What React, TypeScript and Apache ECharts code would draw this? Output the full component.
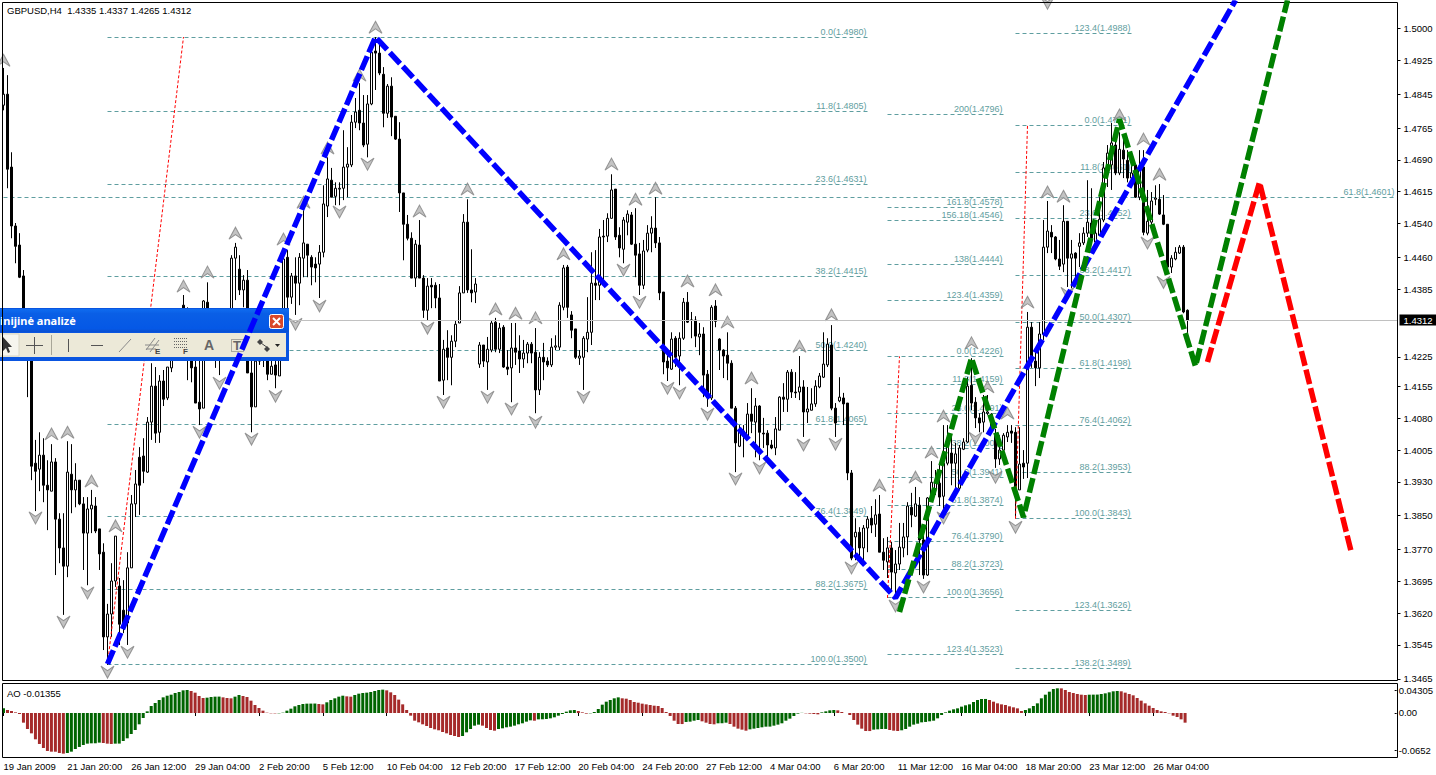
import React, { useEffect, useRef } from "react";
import * as echarts from "echarts";

// Every candle row is [open, close, low, high]
const barsA = [
[1.4819,1.4845,1.4807,1.4907],[1.4845,1.4668,1.4623,1.4890],[1.4673,1.4534,1.4505,1.4708],[1.4534,1.4486,1.4446,1.4541],[1.4489,1.4413,1.4411,1.4517],
[1.4416,1.4288,1.4276,1.4430],[1.4288,1.4241,1.4130,1.4300],[1.4241,1.3967,1.3934,1.4253],[1.3974,1.3955,1.3861,1.4029],[1.3960,1.3993,1.3908,1.4047],
[1.3993,1.3922,1.3882,1.4033],[1.3922,1.3911,1.3816,1.3981],[1.3908,1.3977,1.3908,1.4019],[1.3977,1.3842,1.3710,1.3986],[1.3842,1.3774,1.3738,1.3856],
[1.3774,1.3731,1.3616,1.3856],[1.3731,1.3953,1.3705,1.4026],[1.3948,1.3911,1.3856,1.4019],[1.3911,1.3934,1.3870,1.3974],[1.3934,1.3878,1.3875,1.3934],
[1.3878,1.3809,1.3722,1.3894],[1.3809,1.3866,1.3686,1.3894],[1.3866,1.3875,1.3809,1.3911],[1.3873,1.3814,1.3809,1.3894],[1.3819,1.3760,1.3722,1.3819],
[1.3764,1.3564,1.3533,1.3785],[1.3564,1.3618,1.3498,1.3642],[1.3618,1.3696,1.3564,1.3738],[1.3696,1.3802,1.3682,1.3802],[1.3684,1.3594,1.3545,1.3703],
[1.3627,1.3594,1.3573,1.3698],[1.3597,1.3727,1.3545,1.3764],[1.3727,1.3878,1.3727,1.3899],[1.3878,1.3925,1.3847,1.3958],[1.3988,1.3922,1.3852,1.4012],
[1.3991,1.3955,1.3927,1.4033],[1.3953,1.4071,1.3951,1.4083],[1.4071,1.4156,1.4029,1.4210],[1.4156,1.4045,1.4022,1.4201],[1.4047,1.4168,1.4022,1.4182],
[1.4168,1.4125,1.4109,1.4194],[1.4128,1.4201,1.4123,1.4201],[1.4199,1.4217,1.4189,1.4265],[1.4217,1.4253,1.4217,1.4288],[1.4253,1.4300,1.4241,1.4324],
[1.4347,1.4288,1.4276,1.4371],[1.4300,1.4253,1.4170,1.4342],[1.4217,1.4199,1.4165,1.4288],[1.4201,1.4116,1.4116,1.4217],[1.4118,1.4102,1.4064,1.4241],
];
const barsB = [
[1.4104,1.4357,1.4104,1.4359],[1.4354,1.4276,1.4253,1.4401],[1.4276,1.4312,1.4253,1.4331],[1.4312,1.4265,1.4199,1.4324],[1.4241,1.4300,1.4182,1.4331],
[1.4288,1.4324,1.4265,1.4335],[1.4312,1.4276,1.4265,1.4335],[1.4288,1.4458,1.4276,1.4465],[1.4458,1.4484,1.4359,1.4494],[1.4432,1.4383,1.4371,1.4465],
[1.4383,1.4406,1.4342,1.4418],[1.4406,1.4187,1.4187,1.4430],[1.4187,1.4107,1.4047,1.4217],[1.4107,1.4215,1.4107,1.4253],[1.4215,1.4288,1.4206,1.4335],
[1.4288,1.4241,1.4201,1.4312],[1.4253,1.4184,1.4170,1.4288],[1.4184,1.4203,1.4184,1.4265],[1.4206,1.4182,1.4151,1.4276],[1.4180,1.4253,1.4180,1.4300],
[1.4253,1.4456,1.4241,1.4465],[1.4460,1.4366,1.4312,1.4477],[1.4366,1.4416,1.4350,1.4423],[1.4416,1.4399,1.4324,1.4460],[1.4399,1.4460,1.4347,1.4470],
[1.4458,1.4494,1.4413,1.4571],[1.4491,1.4465,1.4413,1.4491],[1.4460,1.4437,1.4394,1.4465],[1.4444,1.4435,1.4401,1.4460],[1.4444,1.4472,1.4364,1.4489],
[1.4472,1.4586,1.4460,1.4630],[1.4581,1.4645,1.4555,1.4696],[1.4642,1.4602,1.4602,1.4671],[1.4604,1.4623,1.4583,1.4637],[1.4621,1.4623,1.4583,1.4637],
[1.4623,1.4673,1.4595,1.4760],[1.4673,1.4680,1.4602,1.4720],[1.4678,1.4779,1.4673,1.4796],[1.4779,1.4803,1.4765,1.4836],[1.4807,1.4777,1.4760,1.4871],
[1.4777,1.4725,1.4720,1.4843],[1.4727,1.4822,1.4696,1.4843],[1.4822,1.4944,1.4819,1.4968],[1.4947,1.4942,1.4855,1.4980],[1.4942,1.4895,1.4890,1.4966],
[1.4892,1.4800,1.4767,1.4909],[1.4800,1.4864,1.4789,1.4869],[1.4864,1.4791,1.4746,1.4885],[1.4793,1.4739,1.4737,1.4793],[1.4739,1.4612,1.4567,1.4779],
];
const barsC = [
[1.4612,1.4538,1.4453,1.4612],[1.4538,1.4505,1.4500,1.4560],[1.4505,1.4411,1.4411,1.4519],[1.4411,1.4491,1.4390,1.4501],[1.4489,1.4411,1.4411,1.4548],
[1.4411,1.4335,1.4317,1.4418],[1.4335,1.4392,1.4312,1.4411],[1.4394,1.4390,1.4340,1.4411],[1.4394,1.4364,1.4340,1.4401],[1.4364,1.4168,1.4168,1.4397],
[1.4170,1.4243,1.4135,1.4265],[1.4246,1.4224,1.4170,1.4288],[1.4224,1.4262,1.4158,1.4276],[1.4262,1.4302,1.4248,1.4312],[1.4305,1.4376,1.4305,1.4392],
[1.4376,1.4543,1.4376,1.4562],[1.4543,1.4383,1.4376,1.4597],[1.4383,1.4376,1.4354,1.4479],[1.4378,1.4397,1.4352,1.4411],[1.4208,1.4253,1.4199,1.4260],
[1.4253,1.4215,1.4201,1.4253],[1.4213,1.4243,1.4147,1.4272],[1.4241,1.4305,1.4236,1.4312],[1.4307,1.4243,1.4236,1.4317],[1.4243,1.4293,1.4234,1.4305],
[1.4295,1.4201,1.4199,1.4300],[1.4201,1.4196,1.4182,1.4241],[1.4199,1.4246,1.4118,1.4305],[1.4246,1.4236,1.4206,1.4305],[1.4239,1.4220,1.4187,1.4276],
[1.4220,1.4234,1.4199,1.4265],[1.4234,1.4255,1.4210,1.4260],[1.4255,1.4234,1.4210,1.4260],[1.4236,1.4147,1.4092,1.4293],[1.4147,1.4224,1.4135,1.4236],
[1.4224,1.4213,1.4170,1.4258],[1.4215,1.4206,1.4201,1.4224],[1.4206,1.4248,1.4201,1.4269],[1.4248,1.4251,1.4241,1.4276],[1.4248,1.4347,1.4241,1.4354],
[1.4342,1.4435,1.4335,1.4442],[1.4437,1.4342,1.4317,1.4442],[1.4324,1.4288,1.4269,1.4333],[1.4291,1.4224,1.4220,1.4291],[1.4222,1.4227,1.4206,1.4241],
[1.4224,1.4269,1.4147,1.4274],[1.4267,1.4283,1.4236,1.4366],[1.4283,1.4399,1.4253,1.4472],[1.4399,1.4394,1.4359,1.4477],[1.4394,1.4508,1.4359,1.4527],
];
const barsD = [
[1.4510,1.4508,1.4399,1.4548],[1.4510,1.4552,1.4496,1.4564],[1.4552,1.4619,1.4552,1.4656],[1.4621,1.4508,1.4501,1.4621],[1.4512,1.4482,1.4460,1.4531],
[1.4479,1.4548,1.4446,1.4555],[1.4543,1.4562,1.4512,1.4571],[1.4560,1.4491,1.4489,1.4567],[1.4491,1.4465,1.4413,1.4576],[1.4468,1.4394,1.4371,1.4494],
[1.4394,1.4475,1.4385,1.4501],[1.4477,1.4517,1.4472,1.4536],[1.4517,1.4529,1.4472,1.4557],[1.4529,1.4494,1.4482,1.4602],[1.4494,1.4376,1.4359,1.4508],
[1.4378,1.4213,1.4184,1.4378],[1.4215,1.4199,1.4168,1.4229],[1.4196,1.4267,1.4194,1.4283],[1.4269,1.4224,1.4201,1.4274],[1.4227,1.4269,1.4158,1.4283],
[1.4269,1.4354,1.4265,1.4364],[1.4354,1.4307,1.4305,1.4378],[1.4312,1.4312,1.4269,1.4331],[1.4312,1.4274,1.4248,1.4321],[1.4272,1.4279,1.4229,1.4305],
[1.4279,1.4182,1.4130,1.4295],[1.4184,1.4128,1.4107,1.4194],[1.4128,1.4342,1.4123,1.4347],[1.4345,1.4309,1.4295,1.4359],[1.4267,1.4241,1.4194,1.4269],
[1.4241,1.4227,1.4175,1.4243],[1.4229,1.4210,1.4170,1.4283],[1.4210,1.4104,1.4104,1.4217],[1.4104,1.4022,1.3953,1.4109],[1.4014,1.4052,1.4012,1.4064],
[1.4050,1.4038,1.3988,1.4064],[1.4036,1.4090,1.4029,1.4116],[1.4090,1.4073,1.4045,1.4151],[1.4071,1.4109,1.3988,1.4128],[1.4109,1.4047,1.3981,1.4111],
[1.4045,1.4043,1.4010,1.4081],[1.4045,1.4017,1.3977,1.4052],[1.4017,1.4010,1.4007,1.4029],[1.4010,1.4055,1.3993,1.4083],[1.4052,1.4130,1.4052,1.4132],
[1.4130,1.4125,1.4095,1.4163],[1.4125,1.4189,1.4095,1.4194],[1.4189,1.4142,1.4128,1.4196],[1.4142,1.4140,1.4128,1.4189],[1.4142,1.4154,1.4123,1.4227],
];
const barsE = [
[1.4154,1.4095,1.4036,1.4170],[1.4095,1.4102,1.4069,1.4154],[1.4099,1.4114,1.4099,1.4151],[1.4114,1.4156,1.4107,1.4170],[1.4154,1.4180,1.4151,1.4187],
[1.4177,1.4208,1.4175,1.4283],[1.4206,1.4255,1.4201,1.4269],[1.4253,1.4104,1.4099,1.4300],[1.4104,1.4069,1.4036,1.4116],[1.4121,1.4130,1.4118,1.4177],
[1.4128,1.4114,1.4064,1.4140],[1.4116,1.3951,1.3934,1.4116],[1.3951,1.3750,1.3745,1.3958],[1.3800,1.3811,1.3745,1.3844],[1.3811,1.3774,1.3750,1.3823],
[1.3774,1.3821,1.3741,1.3828],[1.3821,1.3842,1.3764,1.3849],[1.3844,1.3828,1.3809,1.3873],[1.3830,1.3852,1.3800,1.3889],[1.3854,1.3764,1.3764,1.3899],
[1.3764,1.3745,1.3722,1.3797],[1.3741,1.3774,1.3703,1.3800],[1.3774,1.3717,1.3675,1.3788],[1.3715,1.3736,1.3658,1.3769],[1.3736,1.3776,1.3722,1.3833],
[1.3774,1.3800,1.3752,1.3833],[1.3800,1.3873,1.3757,1.3882],[1.3870,1.3852,1.3823,1.3904],[1.3849,1.3878,1.3847,1.3918],[1.3875,1.3793,1.3710,1.3894],
[1.3793,1.3710,1.3701,1.3823],[1.3710,1.3892,1.3708,1.3894],[1.3889,1.3929,1.3887,1.3979],[1.3911,1.3929,1.3899,1.3958],[1.3927,1.3894,1.3873,1.3974],
[1.3896,1.3974,1.3859,1.4064],[1.3974,1.4022,1.3969,1.4064],[1.3998,1.3974,1.3922,1.4036],[1.3974,1.3996,1.3894,1.4022],[1.3915,1.4010,1.3911,1.4017],
[1.4007,1.4024,1.4005,1.4033],[1.4024,1.4156,1.4022,1.4177],[1.4158,1.4116,1.4099,1.4222],[1.4118,1.4081,1.4057,1.4130],[1.4081,1.4069,1.4047,1.4092],
[1.4071,1.4095,1.4047,1.4135],[1.4092,1.4095,1.4088,1.4135],[1.4090,1.4055,1.4045,1.4092],[1.4043,1.3984,1.3963,1.4055],[1.3984,1.4005,1.3970,1.4040],
];
const barsF = [
[1.4005,1.4040,1.4003,1.4045],[1.4036,1.4047,1.4024,1.4064],[1.4050,1.4045,1.4022,1.4064],[1.4047,1.3906,1.3844,1.4059],[1.3911,1.3972,1.3911,1.4059],
[1.3974,1.3965,1.3937,1.4005],[1.3974,1.4295,1.3939,1.4331],[1.4295,1.4215,1.4199,1.4307],[1.4215,1.4199,1.4156,1.4236],[1.4199,1.4279,1.4175,1.4307],
[1.4279,1.4484,1.4265,1.4548],[1.4484,1.4522,1.4470,1.4593],[1.4519,1.4508,1.4470,1.4536],[1.4508,1.4456,1.4453,1.4510],[1.4456,1.4439,1.4430,1.4501],
[1.4444,1.4545,1.4425,1.4583],[1.4545,1.4458,1.4390,1.4545],[1.4458,1.4468,1.4387,1.4501],[1.4470,1.4458,1.4413,1.4472],[1.4486,1.4494,1.4437,1.4517],
[1.4494,1.4517,1.4489,1.4531],[1.4517,1.4543,1.4508,1.4642],[1.4541,1.4505,1.4494,1.4623],[1.4496,1.4517,1.4477,1.4531],[1.4512,1.4550,1.4510,1.4602],
[1.4548,1.4671,1.4543,1.4685],[1.4671,1.4706,1.4626,1.4725],[1.4678,1.4730,1.4619,1.4777],[1.4725,1.4659,1.4654,1.4760],[1.4659,1.4715,1.4654,1.4755],
[1.4713,1.4692,1.4647,1.4741],[1.4689,1.4647,1.4637,1.4713],[1.4647,1.4659,1.4630,1.4694],[1.4678,1.4602,1.4600,1.4682],[1.4602,1.4675,1.4595,1.4713],
[1.4673,1.4519,1.4512,1.4713],[1.4517,1.4545,1.4512,1.4619],[1.4543,1.4593,1.4536,1.4614],[1.4597,1.4600,1.4583,1.4630],[1.4597,1.4562,1.4560,1.4633],
[1.4560,1.4538,1.4536,1.4607],[1.4538,1.4437,1.4434,1.4538],[1.4437,1.4458,1.4423,1.4465],[1.4456,1.4472,1.4453,1.4484],[1.4470,1.4484,1.4468,1.4489],
[1.4484,1.4331,1.4328,1.4489],[1.4335,1.4312,1.4265,1.4337],
];

const aoA = [.0087,.0056,.0037,.0012,-.0019,-.0181,-.0300,-.0381,-.0493,-.0580,-.0655,-.0711,-.0724,-.0725,-.0749,-.0761,-.0749,-.0724,-.0674,-.0636,-.0599,-.0574,-.0568,-.0567,-.0555,-.0562,-.0574,-.0580,-.0574,-.0573,-.0524,-.0474,-.0393,-.0318,-.0212,-.0094,.0031,.0131,.0187,.0243,.0293,.0324,.0343,.0374,.0393,.0424,.0431,.0412,.0381,.0318];
const aoB = [.0281,.0287,.0300,.0306,.0307,.0293,.0281,.0275,.0306,.0337,.0318,.0300,.0231,.0150,.0094,.0044,.0006,-.0006,-.0007,-.0006,.0006,.0044,.0081,.0125,.0150,.0168,.0175,.0176,.0177,.0168,.0162,.0200,.0243,.0275,.0306,.0324,.0312,.0306,.0337,.0362,.0374,.0381,.0393,.0412,.0431,.0437,.0424,.0387,.0337,.0250];
const aoC = [.0162,.0056,-.0050,-.0144,-.0175,-.0212,-.0243,-.0281,-.0306,-.0324,-.0356,-.0381,-.0412,-.0431,-.0449,-.0431,-.0362,-.0300,-.0237,-.0218,-.0237,-.0281,-.0318,-.0331,-.0300,-.0287,-.0268,-.0256,-.0237,-.0212,-.0193,-.0162,-.0137,-.0144,-.0119,-.0118,-.0112,-.0100,-.0081,-.0050,-.0019,.0025,.0050,.0056,.0037,.0012,-.0012,-.0006,.0019,.0075];
const aoD = [.0156,.0212,.0243,.0275,.0293,.0275,.0268,.0243,.0206,.0193,.0175,.0162,.0150,.0137,.0131,.0094,.0019,-.0056,-.0144,-.0206,-.0207,-.0168,-.0162,-.0144,-.0131,-.0156,-.0181,-.0206,-.0212,-.0193,-.0192,-.0181,-.0206,-.0256,-.0293,-.0312,-.0331,-.0306,-.0293,-.0281,-.0268,-.0256,-.0255,-.0237,-.0218,-.0193,-.0144,-.0106,-.0056,-.0012];
const aoE = [.0003,-.0006,-.0012,-.0019,-.0025,.0012,.0031,.0050,.0056,.0050,.0019,0,-.0037,-.0131,-.0218,-.0293,-.0337,-.0338,-.0312,-.0306,-.0300,-.0299,-.0318,-.0331,-.0337,-.0324,-.0300,-.0256,-.0218,-.0200,-.0175,-.0168,-.0156,-.0144,-.0100,-.0037,.0012,.0044,.0069,.0087,.0119,.0144,.0162,.0206,.0243,.0262,.0263,.0243,.0212,.0181];
const aoF = [.0162,.0150,.0125,.0106,.0087,.0037,.0056,.0087,.0131,.0181,.0275,.0343,.0399,.0449,.0462,.0461,.0431,.0393,.0374,.0356,.0343,.0337,.0343,.0344,.0345,.0356,.0368,.0387,.0406,.0412,.0406,.0381,.0356,.0331,.0281,.0231,.0181,.0137,.0094,.0056,.0031,.0019,-.0006,-.0050,-.0075,-.0119,-.0181];

const dateLabels = ["19 Jan 2009","21 Jan 20:00","26 Jan 12:00","29 Jan 04:00","2 Feb 20:00","5 Feb 12:00","10 Feb 04:00","12 Feb 20:00","17 Feb 12:00","20 Feb 04:00","24 Feb 20:00","27 Feb 12:00","4 Mar 04:00","6 Mar 20:00","11 Mar 12:00","16 Mar 04:00","18 Mar 20:00","23 Mar 12:00","26 Mar 04:00"];
const priceTicks = [1.5,1.4925,1.4845,1.4765,1.469,1.4615,1.454,1.446,1.4385,1.4225,1.4155,1.408,1.4005,1.393,1.385,1.377,1.3695,1.362,1.3545,1.3465];
const aoTicks = [0.04305,0,-0.0693];
const aoTickText = ["0.04305","0.00","-0.0652"];
const lastClose = 1.4312;
const chartTitle = "GBPUSD,H4  1.4335 1.4337 1.4265 1.4312";
const aoTitle = "AO -0.01355";

// [bar index, price]
const fractalUp = [[0,1.4925],[12,1.4043],[16,1.4047],[22,1.3932],[28,1.3826],[45,1.4392],[51,1.4425],[58,1.4517],[70,1.4503],[75,1.4590],[81,1.4718],[89,1.4890],[93,1.5003],[104,1.4569],[116,1.4621],[123,1.4338],[128,1.4328],[133,1.4317],[140,1.4468],[152,1.4680],[158,1.4597],[163,1.4623],[171,1.4404],[178,1.4383],[181,1.4307],[187,1.4175],[199,1.4250],[207,1.4324],[219,1.3922],[228,1.3941],[232,1.4000],[235,1.4085],[242,1.4258],[246,1.4154],[251,1.4092],[256,1.4354],[261,1.4614],[265,1.4604],[279,1.4796],[285,1.4739],[289,1.4656]];
const fractalDown = [[8,1.3845],[15,1.3599],[21,1.3668],[26,1.3481],[31,1.3528],[49,1.4047],[54,1.4163],[62,1.4031],[68,1.4132],[73,1.4302],[79,1.4345],[84,1.4567],[91,1.4680],[106,1.4293],[110,1.4118],[121,1.4130],[127,1.4102],[133,1.4071],[145,1.4130],[155,1.4430],[159,1.4354],[166,1.4151],[169,1.4140],[176,1.4090],[183,1.3937],[189,1.3963],[200,1.4017],[208,1.4019],[212,1.3727],[223,1.3637],[230,1.3682],[235,1.3845],[243,1.4033],[248,1.3941],[253,1.3823],[261,1.5060],[266,1.4375],[286,1.4494],[290,1.4401]];

const waveBlue = [[26,1.35],[93,1.498],[223,1.3656],[308,1.5067]];
const waveGreen = [[224,1.3623],[242,1.4222],[255,1.3847],[279,1.4786],[298,1.4203],[321,1.5067]];
const waveRed = [[301,1.4213],[314,1.4637],[337,1.3762]];
const dotLineA = [[26,1.35],[45,1.498]];
const dotLineB = [[221,1.3656],[224,1.4226]];
const dotLineC = [[253,1.3843],[256,1.4771]];

// [level, price] per fibonacci tool; x ranges are bar indices
const fibLong = [["0.0",1.498],["11.8",1.4805],["23.6",1.4631],["38.2",1.4415],["50.0",1.424],["61.8",1.4065],["76.4",1.3849],["88.2",1.3675],["100.0",1.35]];
const fibMid = [["0.0",1.4226],["11.8",1.4159],["23.6",1.4091],["38.2",1.4008],["50.0",1.3941],["61.8",1.3874],["76.4",1.379],["88.2",1.3723],["100.0",1.3656],["123.4",1.3523],["123.4",1.4359],["138",1.4444],["156.18",1.4546],["161.8",1.4578],["200",1.4796]];
const fibNear = [["0.0",1.4771],["11.8",1.4661],["23.6",1.4552],["38.2",1.4417],["50.0",1.4307],["61.8",1.4198],["76.4",1.4062],["88.2",1.3953],["100.0",1.3843],["123.4",1.3626],["138.2",1.3489],["123.4",1.4988]];
const fibWide = [["61.8",1.4601]];

const AXIS_FONT = "Liberation Sans";
const AXIS_SIZE = 9.5;
const FIB_COLOR = "#5f9ea0";
const slotCount = 349;

const fibRows = [
  ...fibLong.map((r) => ({ from: 26, to: 216, level: r[0], price: r[1] as number })),
  ...fibMid.map((r) => ({ from: 221, to: 250, level: r[0], price: r[1] as number })),
  ...fibNear.map((r) => ({ from: 253, to: 282, level: r[0], price: r[1] as number })),
  ...fibWide.map((r) => ({ from: 0, to: 348, level: r[0], price: r[1] as number })),
];

function toolbarElements() {
  const g: any[] = [];
  const dark = "#555555";
  const mid = "#8a8a8a";
  const ln = (x1: number, y1: number, x2: number, y2: number, stroke = dark, lineWidth = 1) =>
    ({ type: "line", shape: { x1, y1, x2, y2 }, style: { stroke, lineWidth } });
  g.push({ type: "rect", shape: { x: 0, y: 308, width: 289, height: 53 },
    style: { fill: "#0a55e0" } });
  g.push({ type: "rect", shape: { x: 0, y: 309, width: 289, height: 23 },
    style: { fill: new echarts.graphic.LinearGradient(0, 0, 0, 1, [
      { offset: 0, color: "#0f6cf0" }, { offset: 0.2, color: "#0a5fe6" }, { offset: 0.85, color: "#0558e6" }, { offset: 1, color: "#0a4fd0" },
    ]) } });
  g.push({ type: "text", x: 0, y: 315, style: { text: "inijinė analizė", fill: "#fff", font: `bold 11px "Noto Sans"` } });
  g.push({ type: "rect", shape: { x: 269.5, y: 314.5, width: 14, height: 14, r: 2 },
    style: { fill: "#d8482a", stroke: "#ffffff", lineWidth: 1 } });
  g.push(ln(273, 318, 280, 325, "#fff", 2));
  g.push(ln(280, 318, 273, 325, "#fff", 2));
  g.push({ type: "rect", shape: { x: 0, y: 333, width: 286, height: 24 }, style: { fill: "#ece9d8" } });
  g.push({ type: "rect", shape: { x: 0, y: 334, width: 19, height: 22 }, style: { fill: "#f6f5ee", stroke: "#d8d5c4", lineWidth: 1 } });
  g.push({ type: "polygon", shape: { points: [[3, 337], [3, 351], [6, 348], [8, 353], [10, 352], [8, 347], [12, 347]] }, style: { fill: "#333" } });
  g.push(ln(26, 345.5, 43, 345.5, dark));
  g.push(ln(34.5, 337, 34.5, 354, dark));
  g.push(ln(51.5, 335, 51.5, 355, "#a8a698"));
  g.push(ln(68.5, 339, 68.5, 352, dark));
  g.push(ln(91, 345.5, 103, 345.5, dark));
  g.push(ln(119, 352, 131, 339, mid));
  g.push(ln(146, 350, 155, 338, mid));
  g.push(ln(150, 352, 159, 340, mid));
  g.push(ln(145, 345, 159, 345, mid));
  g.push(ln(146, 349, 156, 349, mid));
  g.push({ type: "text", x: 155, y: 347, style: { text: "E", fill: "#444", font: `bold 8px "Liberation Sans"` } });
  [338.5, 341.5, 344.5, 347.5].forEach((y) =>
    g.push({ type: "line", shape: { x1: 174, y1: y, x2: 187, y2: y }, style: { stroke: "#666", lineWidth: 1, lineDash: [1, 1] } }));
  g.push({ type: "text", x: 183, y: 347, style: { text: "F", fill: "#444", font: `bold 8px "Liberation Sans"` } });
  g.push({ type: "text", x: 204, y: 338, style: { text: "A", fill: "#666", font: `bold 14px "Liberation Sans"` } });
  g.push({ type: "rect", shape: { x: 231.5, y: 339.5, width: 12, height: 12 }, style: { fill: "none", stroke: "#666", lineWidth: 1, lineDash: [1, 1] } });
  g.push({ type: "text", x: 233, y: 339, style: { text: "T", fill: "#666", font: `bold 13px "Liberation Sans"` } });
  g.push({ type: "polygon", shape: { points: [[260, 339], [263, 342], [260, 345], [257, 342]] }, style: { fill: "#444" } });
  g.push({ type: "polygon", shape: { points: [[267, 346], [270, 349], [267, 352], [264, 349]] }, style: { fill: "#444" } });
  g.push(ln(261, 343, 268, 348, "#444"));
  g.push({ type: "polygon", shape: { points: [[275, 344], [280, 344], [277.5, 347]] }, style: { fill: "#222" } });
  return g.map((el) => ({ ...el, z: 50 }));
}

const arrowUp = "path://M6.5 0 L13 12 L6.5 7.5 L0 12 Z";
const arrowDown = "path://M0 0 L6.5 4.5 L13 0 L6.5 12 Z";

function waveSeries(name: string, data: number[][], color: string, z: number) {
  return {
    name, type: "line", data, xAxisIndex: 0, yAxisIndex: 0, symbol: "none", z, clip: true, animation: false, silent: true,
    lineStyle: { color, width: 5.5, type: [15, 4], cap: "butt", join: "bevel" },
  };
}
function dotSeries(name: string, data: number[][]) {
  return {
    name, type: "line", data, xAxisIndex: 0, yAxisIndex: 0, symbol: "none", z: 3, silent: true,
    lineStyle: { color: "#ff0000", width: 1, type: [3, 2] },
  };
}

export default function App() {
  const ref = useRef<HTMLDivElement>(null);
  useEffect(() => {
    document.body.style.margin = "0";
    const chart = echarts.init(ref.current!, undefined, { renderer: "svg" });
    const candles = [...barsA, ...barsB, ...barsC, ...barsD, ...barsE, ...barsF];
    const ao = [...aoA, ...aoB, ...aoC, ...aoD, ...aoE, ...aoF];
    const slots = Array.from({ length: slotCount }, (_, i) => `bar ${i}`);
    const hasDate = (i: number) => i % 16 === 0 && i / 16 < dateLabels.length;
    chart.setOption({
      animation: false,
      backgroundColor: "#ffffff",
      textStyle: { fontFamily: AXIS_FONT },
      grid: [
        { left: 1.5, top: 3, width: 1396, height: 677 },
        { left: 1.5, top: 684, width: 1396, height: 73 },
      ],
      xAxis: [
        { type: "category", gridIndex: 0, data: slots, show: false },
        {
          type: "category", gridIndex: 1, data: slots,
          axisLine: { show: false },
          axisTick: { show: true, length: 3, alignWithLabel: true, interval: (i: number) => hasDate(i), lineStyle: { color: "#000" } },
          axisLabel: {
            interval: (i: number) => hasDate(i), align: "left", margin: 4, color: "#000", fontSize: AXIS_SIZE, fontFamily: AXIS_FONT,
            formatter: (_: string, i: number) => (hasDate(i) ? dateLabels[i / 16] : ""),
          },
        },
      ],
      yAxis: [
        {
          type: "value", gridIndex: 0, position: "right", min: 1.34623, max: 1.50603, scale: true,
          splitLine: { show: false }, axisLine: { show: false },
          axisTick: { show: true, length: 3, customValues: priceTicks, lineStyle: { color: "#000" } },
          axisLabel: { customValues: priceTicks, margin: 6, color: "#000", fontSize: AXIS_SIZE, fontFamily: AXIS_FONT, formatter: (v: number) => v.toFixed(4) },
        },
        {
          type: "value", gridIndex: 1, position: "right", min: -0.0824, max: 0.0543,
          splitLine: { show: false }, axisLine: { show: false },
          axisTick: { show: true, length: 2, customValues: aoTicks, lineStyle: { color: "#000" } },
          axisLabel: {
            customValues: aoTicks, margin: 4, color: "#000", fontSize: AXIS_SIZE, fontFamily: AXIS_FONT,
            formatter: (v: number) => aoTickText[aoTicks.indexOf(v)] ?? "",
          },
        },
      ],
      series: [
        {
          name: "Fibonacci", type: "custom", xAxisIndex: 0, yAxisIndex: 0, z: 1, silent: true,
          data: fibRows.map((r) => [r.from, r.to, r.price]),
          encode: { x: [0, 1], y: 2 },
          renderItem: (params: any, api: any) => {
            const r = fibRows[params.dataIndex];
            const a = api.coord([r.from, r.price]);
            const b = api.coord([r.to, r.price]);
            const y = Math.floor(a[1]) + 0.5;
            return {
              type: "group",
              children: [
                { type: "line", shape: { x1: a[0], y1: y, x2: b[0], y2: y }, style: { stroke: FIB_COLOR, lineWidth: 1, lineDash: [4, 3] } },
                { type: "text", style: { text: `${r.level}(${r.price.toFixed(4)})`, x: b[0] - 1, y: y - 1, align: "right", verticalAlign: "bottom", fill: FIB_COLOR, font: `9px "${AXIS_FONT}"` } },
              ],
            };
          },
        },
        {
          name: "GBPUSD", type: "candlestick", xAxisIndex: 0, yAxisIndex: 0, data: candles, barWidth: 2, z: 2, silent: true,
          itemStyle: { color: "#ffffff", color0: "#000000", borderColor: "#000000", borderColor0: "#000000", borderWidth: 1 },
          markLine: {
            silent: true, symbol: "none", animation: false, precision: 4,
            lineStyle: { color: "#c0c0c0", width: 1, type: "solid" },
            data: [{ yAxis: lastClose }],
            label: {
              show: true, position: "end", distance: 2, color: "#fff", backgroundColor: "#000", padding: [1, 4, 0, 4],
              fontSize: AXIS_SIZE, fontFamily: AXIS_FONT, formatter: () => lastClose.toFixed(4),
            },
          },
        },
        dotSeries("Red A", dotLineA), dotSeries("Red B", dotLineB), dotSeries("Red C", dotLineC),
        { name: "Fractal up", type: "scatter", xAxisIndex: 0, yAxisIndex: 0, data: fractalUp, symbol: arrowUp, symbolSize: [13, 12], z: 4, silent: true, itemStyle: { color: "#b4b4b4", borderColor: "#808080", borderWidth: 1 } },
        { name: "Fractal down", type: "scatter", xAxisIndex: 0, yAxisIndex: 0, data: fractalDown, symbol: arrowDown, symbolSize: [13, 12], z: 4, silent: true, itemStyle: { color: "#b4b4b4", borderColor: "#808080", borderWidth: 1 } },
        waveSeries("Wave blue", waveBlue, "#0000ff", 60),
        waveSeries("Wave green", waveGreen, "#008000", 61),
        waveSeries("Wave red", waveRed, "#ff0000", 62),
        {
          name: "AO", type: "bar", xAxisIndex: 1, yAxisIndex: 1, barWidth: 3, silent: true, data: ao,
          itemStyle: { color: (p: any) => (p.dataIndex === 0 || ao[p.dataIndex] >= ao[p.dataIndex - 1] ? "#006400" : "#a52a2a") },
        },
      ],
      graphic: {
        z: 50,
        elements: [
          ...toolbarElements(),
          { type: "rect", z: 50, shape: { x: 2.5, y: 2.5, width: 1395, height: 678 }, style: { fill: "none", stroke: "#000", lineWidth: 1 } },
          { type: "rect", z: 50, shape: { x: 2.5, y: 683.5, width: 1395, height: 74 }, style: { fill: "none", stroke: "#000", lineWidth: 1 } },
          { type: "text", z: 50, x: 7, y: 5, style: { text: chartTitle, fill: "#000", font: `${AXIS_SIZE}px "${AXIS_FONT}"` } },
          { type: "text", z: 50, x: 7, y: 688, style: { text: aoTitle, fill: "#000", font: `${AXIS_SIZE}px "${AXIS_FONT}"` } },
        ],
      },
    });
    return () => chart.dispose();
  }, []);
  return <div ref={ref} style={{ position: "absolute", left: 0, top: 0, width: 1436, height: 775 }} />;
}
